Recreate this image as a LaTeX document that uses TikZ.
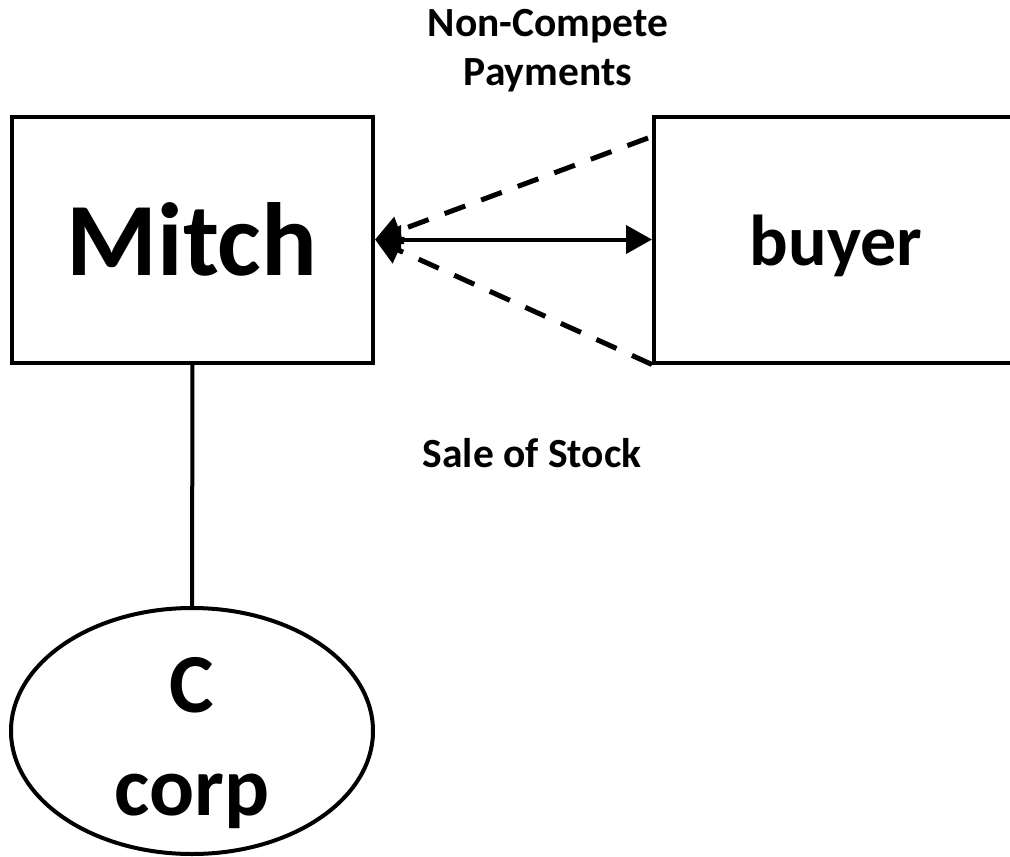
\documentclass[tikz,border=0pt]{standalone}
\usepackage{fontspec}
\setmainfont{Carlito}
\usetikzlibrary{shapes.geometric,arrows.meta}
\begin{document}
\begin{tikzpicture}[x=1pt,y=-1pt,line width=4pt,
  box/.style={draw,rectangle,minimum width=361pt,minimum height=246pt,inner sep=0pt},
  oval/.style={draw,ellipse,minimum width=362pt,minimum height=246pt,inner sep=0pt},
  lbl/.style={font=\bfseries\fontsize{41.5}{48}\selectfont,anchor=base,inner sep=0pt},
  big/.style={font=\bfseries\fontsize{104}{120}\selectfont,anchor=base,inner sep=0pt},
  mid/.style={font=\bfseries\fontsize{84}{100}\selectfont,anchor=base,inner sep=0pt},
  buy/.style={font=\bfseries\fontsize{72}{80}\selectfont,anchor=base,inner sep=0pt},
  tipA/.style={-{Triangle[length=26pt,width=28pt]}},
  dashline/.style={line width=5pt,dash pattern=on 22pt off 17pt}]
\useasboundingbox (0,0) rectangle (1010,857);
\clip (0,0) rectangle (1010,857);
% boxes
\node[box] (mitch) at (192.5,239.5) {};
\node[box] (buyer) at (834.5,239.5) {};
\node[oval] (corp) at (192,731) {};
% texts
\node[big] (mitchtxt) at (192,275) {Mitch};
\node[buy] (buyertxt) at (836,265) {buyer};
\node[mid] (ctxt) at (192,712) {C};
\node[mid] (corptxt) at (192,815) {corp};
\node[lbl] (nc1) at (548,36.5) {Non-Compete};
\node[lbl] (nc2) at (548,85) {Payments};
\node[lbl] (sale) at (532,467) {Sale of Stock};
% connectors
\coordinate (dtop) at (648,138);
\coordinate (dbot) at (buyer.south west);
\draw[{Triangle[length=26pt,width=28pt]}-{Triangle[length=26pt,width=28pt]}] (mitch.east) -- (buyer.west);
\draw[tipA,dashline] (dtop) -- (mitch.east);
\draw[tipA,dashline] (dbot) -- (mitch.east);
\draw (mitch.south) -- (corp.north);
\end{tikzpicture}
\end{document}
